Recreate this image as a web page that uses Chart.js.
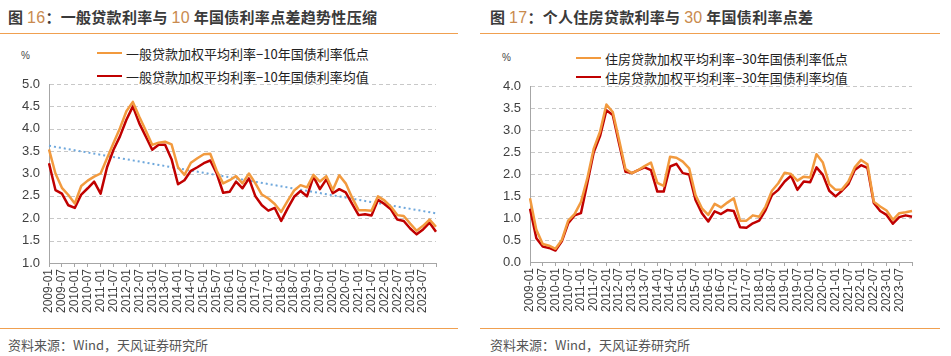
<!DOCTYPE html>
<html><head><meta charset="utf-8">
<script src="https://cdn.jsdelivr.net/npm/chart.js@4.4.1/dist/chart.umd.min.js"></script>
<style>
html,body{margin:0;padding:0;background:#fff;width:951px;height:356px;overflow:hidden;position:relative;font-family:"Liberation Sans","Noto Sans CJK SC",sans-serif;}
.title{position:absolute;top:6px;font-family:"Noto Sans CJK SC";font-weight:bold;font-size:15px;color:#3a3a3a;white-space:nowrap;letter-spacing:0.3px}
.title .n{font-family:"Liberation Sans";font-weight:normal;color:#c98a4e;font-size:16px}
.rule{position:absolute;height:1.5px;background:#f0a050}
.src{position:absolute;top:335px;font-family:"Noto Sans CJK SC";font-size:13px;color:#555;white-space:nowrap}
.unit{position:absolute;font-size:10px;color:#444}
.leg{position:absolute;font-family:"Noto Sans CJK SC";font-size:13px;color:#222;white-space:nowrap;display:flex;align-items:center;height:16px}
.leg i{display:inline-block;width:25px;height:2.5px;margin-right:4px}
canvas{position:absolute}
</style></head>
<body>
<div class="title" style="left:8px">图 <span class="n">16</span>：一般贷款利率与 <span class="n">10</span> 年国债利率点差趋势性压缩</div>
<div class="title" style="left:490px">图 <span class="n">17</span>：个人住房贷款利率与 <span class="n">30</span> 年国债利率点差</div>
<div class="rule" style="left:0;width:458px;top:32.5px"></div>
<div class="rule" style="left:480px;width:460px;top:32.5px"></div>
<div class="rule" style="left:0;width:458px;top:327.5px"></div>
<div class="rule" style="left:480px;width:460px;top:327.5px"></div>
<div class="src" style="left:8px">资料来源：Wind，天风证券研究所</div>
<div class="src" style="left:490px">资料来源：Wind，天风证券研究所</div>
<div class="unit" style="left:21px;top:50px">%</div>
<div class="unit" style="left:502px;top:52px">%</div>
<div class="leg" style="left:97px;top:45px"><i style="background:#f29a3e"></i>一般贷款加权平均利率−10年国债利率低点</div>
<div class="leg" style="left:97px;top:68px"><i style="background:#c00000"></i>一般贷款加权平均利率−10年国债利率均值</div>
<div class="leg" style="left:576px;top:50px"><i style="background:#f29a3e"></i>住房贷款加权平均利率−30年国债利率低点</div>
<div class="leg" style="left:576px;top:69px"><i style="background:#c00000"></i>住房贷款加权平均利率−30年国债利率均值</div>
<canvas id="c1" width="470" height="290" style="left:0;top:38px;width:470px;height:290px"></canvas>
<canvas id="c2" width="475" height="290" style="left:476px;top:38px;width:475px;height:290px"></canvas>
<script>
// quarterly categories 2009-01 ... 2024-01
const quarters = [];
for (let y = 2009; y <= 2024; y++) { for (const m of ['01','04','07','10']) { if (y === 2024 && m !== '01') break; quarters.push(y + '-' + m); } }
// tick labels shown on the axis
const tickLabels = quarters.filter(q => (q.endsWith('-01') || q.endsWith('-07')) && q <= '2023-07');

const generalLow10 = [3.54,3.00,2.68,2.52,2.33,2.72,2.84,2.93,3.00,3.34,3.68,4.01,4.39,4.60,4.27,3.96,3.64,3.69,3.71,3.65,3.14,2.97,3.24,3.34,3.43,3.44,3.06,2.78,2.85,2.94,2.78,3.00,2.78,2.53,2.44,2.32,2.14,2.39,2.62,2.74,2.69,2.97,2.82,2.94,2.63,2.96,2.78,2.46,2.18,2.18,2.17,2.49,2.40,2.26,2.07,2.05,1.88,1.72,1.83,1.97,1.81];
const generalAvg10 = [3.23,2.63,2.55,2.29,2.23,2.53,2.67,2.82,2.55,3.14,3.53,3.83,4.20,4.50,4.12,3.83,3.53,3.64,3.64,3.32,2.76,2.85,3.06,3.14,3.23,3.29,3.00,2.57,2.59,2.82,2.67,2.89,2.49,2.29,2.17,2.23,1.94,2.22,2.48,2.61,2.49,2.93,2.65,2.87,2.56,2.65,2.58,2.32,2.07,2.09,2.06,2.41,2.32,2.20,1.97,1.94,1.77,1.64,1.75,1.90,1.70];
// dotted trend line: endpoints
const trendStart = 3.62, trendEnd = 2.11;
const housingLow30 = [1.45,0.73,0.41,0.37,0.30,0.50,0.94,1.09,1.36,1.90,2.57,2.96,3.58,3.41,2.77,2.11,2.02,2.09,2.18,2.26,1.80,1.73,2.39,2.37,2.28,2.13,1.52,1.22,1.07,1.32,1.24,1.35,1.45,0.94,0.94,1.06,1.03,1.26,1.62,1.79,2.03,2.00,1.85,1.94,1.92,2.45,2.26,1.77,1.64,1.65,1.83,2.15,2.32,2.22,1.37,1.26,1.17,0.96,1.11,1.13,1.16];
const housingAvg30 = [1.21,0.54,0.35,0.32,0.26,0.47,0.88,1.06,1.11,1.79,2.49,2.86,3.45,3.34,2.69,2.05,2.02,2.09,2.15,2.09,1.60,1.60,2.17,2.23,2.02,1.99,1.41,1.11,0.92,1.15,1.09,1.18,1.16,0.79,0.78,0.88,0.94,1.18,1.52,1.64,1.83,1.96,1.64,1.83,1.81,2.15,1.98,1.62,1.49,1.62,1.77,2.09,2.20,2.14,1.34,1.16,1.07,0.87,1.02,1.06,1.03];

const ORANGE = '#f29a3e', RED = '#c00000', BLUE = '#6fa8dc';

// dashed horizontal grid lines, positioned by the y scale
const dashedGrid = {
  id: 'dashedGrid',
  beforeDatasetsDraw(chart) {
    const { ctx, chartArea: a, scales: { y } } = chart;
    ctx.save();
    ctx.strokeStyle = '#c8c8c8';
    ctx.lineWidth = 1;
    ctx.setLineDash([4, 3]);
    y.ticks.forEach(t => {
      if (t.value === y.min) return;
      const py = Math.round(y.getPixelForValue(t.value)) + 0.5;
      ctx.beginPath(); ctx.moveTo(a.left + 1, py); ctx.lineTo(a.right, py); ctx.stroke();
    });
    ctx.restore();
  }
};

function makeChart(id, datasets, yMin, yMax, yWidth, xHeight, padTop, padRight) {
  return new Chart(document.getElementById(id), {
    type: 'line',
    data: { labels: quarters, datasets },
    options: {
      responsive: false, animation: false,
      layout: { padding: { top: padTop, right: padRight, left: 0, bottom: 0 } },
      plugins: { legend: { display: false }, tooltip: { enabled: false } },
      elements: { point: { radius: 0 }, line: { tension: 0, borderJoinStyle: 'round' } },
      scales: {
        x: {
          offset: false,
          grid: { drawOnChartArea: false, drawTicks: true, tickLength: 4,
                  tickColor: c => (c.index % 2 === 0 ? '#a6a6a6' : 'rgba(0,0,0,0)') },
          border: { display: true, color: '#a6a6a6', width: 1 },
          ticks: {
            autoSkip: false, maxRotation: 90, minRotation: 90, padding: 2,
            font: { family: 'Liberation Sans', size: 12 }, color: '#404040',
            callback: (v, i) => (tickLabels.includes(quarters[i]) ? quarters[i] : '')
          },
          afterFit: s => { s.height = xHeight; }
        },
        y: {
          min: yMin, max: yMax,
          grid: { drawOnChartArea: false, drawTicks: false },
          border: { display: true, color: '#a6a6a6', width: 1 },
          ticks: { stepSize: 0.5, padding: 9, font: { family: 'Liberation Sans', size: 13 }, color: '#404040',
                   callback: v => v.toFixed(1) },
          afterFit: s => { s.width = yWidth; }
        }
      }
    },
    plugins: [dashedGrid]
  });
}

const trend = quarters.map((q, i) => i === 0 ? trendStart : (i === quarters.length - 1 ? trendEnd : null));

const c1 = makeChart('c1', [
  { label: '一般贷款加权平均利率−10年国债利率低点', data: generalLow10, borderColor: ORANGE, borderWidth: 2.5 },
  { label: '一般贷款加权平均利率−10年国债利率均值', data: generalAvg10, borderColor: RED, borderWidth: 2.5 },
  { label: 'trend', data: trend, borderColor: BLUE, borderWidth: 2, borderDash: [2, 3], spanGaps: true }
], 1.0, 5.0, 49, 65, 46, 34);

const c2 = makeChart('c2', [
  { label: '住房贷款加权平均利率−30年国债利率低点', data: housingLow30, borderColor: ORANGE, borderWidth: 2.5 },
  { label: '住房贷款加权平均利率−30年国债利率均值', data: housingAvg30, borderColor: RED, borderWidth: 2.5 }
], 0.0, 4.0, 54, 66, 48, 39);
</script>
</body></html>
